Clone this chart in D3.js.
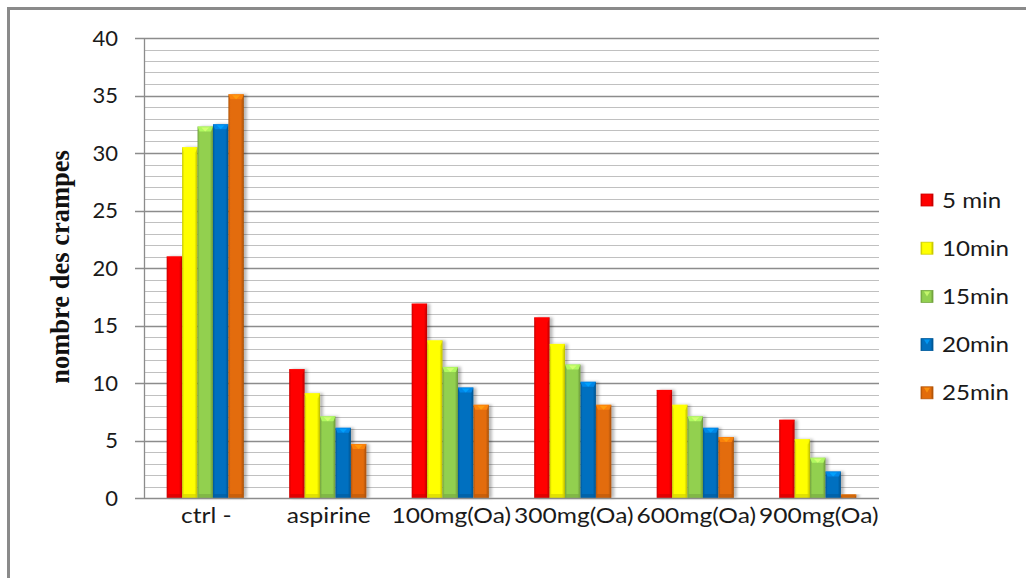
<!DOCTYPE html>
<html>
<head>
<meta charset="utf-8">
<script src="https://cdn.jsdelivr.net/npm/d3@7"></script>
<style>
  html, body { margin: 0; padding: 0; background: #fff; overflow: hidden; }
  svg { display: block; }
  .tick-label, .cat-label, .legend-label { font-family: Lato, "Open Sans", sans-serif; fill: #1a1a1a; }
</style>
</head>
<body>
<svg id="chart" width="1026" height="578"></svg>
<script>
// Groups on the x axis
const categories = ["ctrl -", "aspirine", "100mg(Oa)", "300mg(Oa)", "600mg(Oa)", "900mg(Oa)"];
// Time points (one bar per time point inside each group)
const seriesNames = ["5 min", "10min", "15min", "20min", "25min"];
// Number of cramps per group, one array per time point
const s5min  = [21.0, 11.2, 16.9, 15.7, 9.4, 6.8];
const s10min = [30.5,  9.1, 13.7, 13.4, 8.1, 5.1];
const s15min = [32.3,  7.1, 11.4, 11.6, 7.1, 3.5];
const s20min = [32.5,  6.1,  9.6, 10.1, 6.1, 2.3];
const s25min = [35.1,  4.7,  8.1,  8.1, 5.3, 0.3];
const seriesValues = [s5min, s10min, s15min, s20min, s25min];
const yTicks = [0, 5, 10, 15, 20, 25, 30, 35, 40];
const colors = ["#ff0000", "#ffff00", "#92d050", "#0070c0", "#e36c0a"];

const svg = d3.select("#chart");
const defs = svg.append("defs");

// Outer frame (left and top edges)
svg.append("path")
  .attr("d", "M8.5,578V8.5H1026")
  .attr("fill", "none").attr("stroke", "#8a8a8a").attr("stroke-width", 3);

const plot = { left: 144, right: 879, top: 38, bottom: 498 };

const x0 = d3.scaleBand()
  .domain(categories)
  .range([plot.left, plot.right])
  .paddingInner(0.37)
  .paddingOuter(0.185);

const x1 = d3.scaleBand()
  .domain(d3.range(seriesNames.length))
  .range([0, x0.bandwidth()]);

const y = d3.scaleLinear().domain([0, 40]).range([plot.bottom, plot.top]);

// Minor gridlines (every unit) and major gridlines (every 5)
const minor = d3.range(1, 41).filter(v => v % 5 !== 0);
svg.append("g").selectAll("line").data(minor).join("line")
  .attr("x1", plot.left).attr("x2", plot.right)
  .attr("y1", d => Math.round(y(d)) + 0.5).attr("y2", d => Math.round(y(d)) + 0.5)
  .attr("stroke", "#c0c0c0").attr("stroke-width", 1.2);

svg.append("g").selectAll("line").data(yTicks.filter(v => v > 0)).join("line")
  .attr("x1", plot.left - 9).attr("x2", plot.right)
  .attr("y1", d => Math.round(y(d)) + 0.5).attr("y2", d => Math.round(y(d)) + 0.5)
  .attr("stroke", "#8c8c8c").attr("stroke-width", 1.3);

// Drop shadow for the bars
const shadow = defs.append("filter").attr("id", "barShadow")
  .attr("x", "-30%").attr("y", "-10%").attr("width", "180%").attr("height", "120%");
shadow.append("feDropShadow")
  .attr("dx", 3).attr("dy", 0).attr("stdDeviation", 1.6)
  .attr("flood-color", "#000").attr("flood-opacity", 0.28);

// Bevelled fill per series
colors.forEach((c, i) => {
  const base = d3.color(c);
  const dark = base.darker(0.7);
  const g = defs.append("linearGradient").attr("id", "grad" + i)
    .attr("x1", "0").attr("x2", "1").attr("y1", "0").attr("y2", "0");
  g.append("stop").attr("offset", "0").attr("stop-color", dark.formatHex());
  g.append("stop").attr("offset", "0.14").attr("stop-color", base.formatHex());
  g.append("stop").attr("offset", "0.8").attr("stop-color", base.formatHex());
  g.append("stop").attr("offset", "1").attr("stop-color", base.darker(0.9).formatHex());
});

const groups = svg.append("g").selectAll("g").data(categories).join("g")
  .attr("transform", d => `translate(${x0(d)},0)`);

const bars = groups.selectAll("g.bar")
  .data((d, ci) => seriesValues.map((vals, si) => ({ si, v: vals[ci] })))
  .join("g").attr("class", "bar");

bars.append("rect")
  .attr("x", d => x1(d.si))
  .attr("y", d => y(d.v))
  .attr("width", x1.bandwidth())
  .attr("height", d => y(0) - y(d.v))
  .attr("fill", d => `url(#grad${d.si})`)
  .attr("filter", "url(#barShadow)");

// Top bevel highlight
bars.append("path")
  .attr("d", d => {
    const xl = x1(d.si), w = x1.bandwidth(), yt = y(d.v);
    const h = Math.min(5, y(0) - yt);
    return `M${xl},${yt}L${xl + w},${yt}L${xl + w - 2},${yt + h}L${xl + 2},${yt + h}Z`;
  })
  .attr("fill", d => d3.color(colors[d.si]).brighter(0.6).formatHex())
  .attr("opacity", 0.85);

bars.append("path")
  .attr("d", d => {
    const xl = x1(d.si), w = x1.bandwidth(), yt = y(d.v);
    const h = Math.min(5, y(0) - yt);
    if (h < 4) return "";
    const cx = xl + w / 2;
    return `M${cx - 4},${yt + 1}L${cx + 4},${yt + 1}L${cx},${yt + h}Z`;
  })
  .attr("fill", d => d3.color(colors[d.si]).brighter(1.1).formatHex())
  .attr("opacity", 0.8);

// Bottom darker band
bars.append("rect")
  .attr("x", d => x1(d.si) + 1)
  .attr("y", d => y(0) - Math.min(4, y(0) - y(d.v)))
  .attr("width", x1.bandwidth() - 2)
  .attr("height", d => Math.min(4, y(0) - y(d.v)))
  .attr("fill", d => d3.color(colors[d.si]).darker(0.6).formatHex())
  .attr("opacity", 0.6);

// Axis lines
svg.append("line")
  .attr("x1", plot.left + 0.5).attr("x2", plot.left + 0.5)
  .attr("y1", plot.top).attr("y2", plot.bottom)
  .attr("stroke", "#8c8c8c").attr("stroke-width", 1.3);
svg.append("line")
  .attr("x1", plot.left - 9).attr("x2", plot.right)
  .attr("y1", plot.bottom + 0.5).attr("y2", plot.bottom + 0.5)
  .attr("stroke", "#8c8c8c").attr("stroke-width", 1.5);

// Y tick labels
svg.append("g").selectAll("text").data(yTicks).join("text")
  .attr("class", "tick-label")
  .attr("x", 118).attr("y", d => y(d))
  .attr("dy", "0.36em")
  .attr("text-anchor", "end")
  .attr("font-size", 22)
  .text(d => d);

// Category labels (slightly widened glyphs)
svg.append("g").selectAll("text").data(categories).join("text")
  .attr("class", "cat-label")
  .attr("transform", d => `translate(${x0(d) + x0.bandwidth() / 2 + 1},515) scale(1.17,1)`)
  .attr("dy", "0.36em")
  .attr("text-anchor", "middle")
  .attr("font-size", 21)
  .text(d => d);

// Y axis title
svg.append("text")
  .attr("transform", "translate(60,267) rotate(-90)")
  .attr("text-anchor", "middle")
  .attr("dy", "0.35em")
  .attr("font-family", "'Liberation Serif', 'DejaVu Serif', serif")
  .attr("font-weight", "bold")
  .attr("font-size", 26.5)
  .attr("fill", "#111")
  .text("nombre des crampes");

// Legend
const legend = svg.append("g").selectAll("g").data(seriesNames).join("g")
  .attr("transform", (d, i) => `translate(921,${200 + i * 48.2})`);
legend.append("rect")
  .attr("x", 0).attr("y", -6).attr("width", 12).attr("height", 12)
  .attr("fill", (d, i) => `url(#grad${i})`)
  .attr("stroke", (d, i) => d3.color(colors[i]).darker(0.6).formatHex())
  .attr("stroke-width", 0.8);
legend.append("path")
  .attr("d", "M3,-5L9,-5L6,0Z")
  .attr("fill", (d, i) => d3.color(colors[i]).brighter(1).formatHex())
  .attr("opacity", 0.8);
legend.append("text")
  .attr("class", "legend-label")
  .attr("transform", "translate(21,0) scale(1.15,1)")
  .attr("dy", "0.36em")
  .attr("font-size", 21)
  .text(d => d);
</script>
</body>
</html>
